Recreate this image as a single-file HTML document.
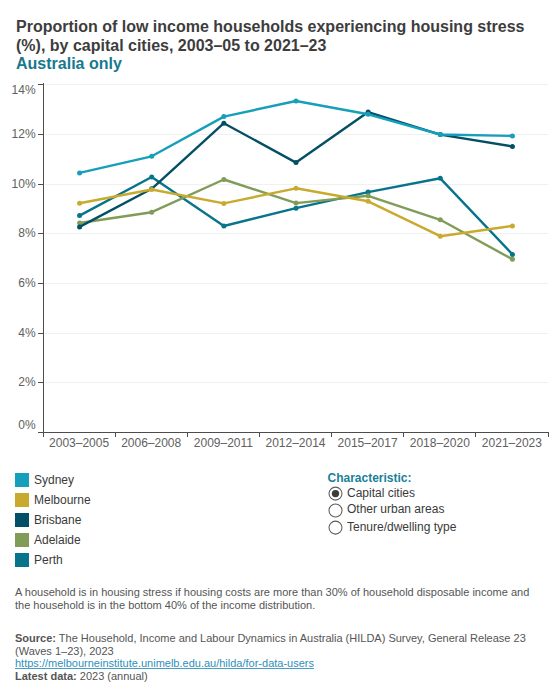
<!DOCTYPE html>
<html><head><meta charset="utf-8">
<style>
html,body{margin:0;padding:0;background:#fff;width:560px;height:700px;overflow:hidden;}
svg{display:block;font-family:"Liberation Sans",sans-serif;}
.t{font-size:16px;font-weight:bold;fill:#3d3d3d;}
.st{font-size:16px;font-weight:bold;fill:#17798f;}
.ax{font-size:12px;fill:#606060;}
.lg{font-size:12px;fill:#3a3a3a;}
.nt{font-size:11px;fill:#555;}
.ln{fill:none;stroke-width:2.4;stroke-linejoin:round;stroke-linecap:round;}
</style></head>
<body>
<svg width="560" height="700" viewBox="0 0 560 700">
<!-- title -->
<text class="t" x="16" y="31.8">Proportion of low income households experiencing housing stress</text>
<text class="t" x="16" y="51">(%), by capital cities, 2003–05 to 2021–23</text>
<text class="st" x="16" y="68.5">Australia only</text>

<!-- gridlines -->
<g fill="#f0f0f0" shape-rendering="crispEdges">
<rect x="45" y="84" width="503" height="1"/>
<rect x="45" y="134" width="503" height="1"/>
<rect x="45" y="184" width="503" height="1"/>
<rect x="45" y="233" width="503" height="1"/>
<rect x="45" y="283" width="503" height="1"/>
<rect x="45" y="333" width="503" height="1"/>
<rect x="45" y="382" width="503" height="1"/>
</g>
<!-- axes -->
<g fill="#4d4d4d" shape-rendering="crispEdges">
<rect x="43" y="83" width="1" height="354"/>
<rect x="38" y="432" width="511" height="1"/>
<rect x="38" y="84" width="5" height="1"/>
<rect x="38" y="134" width="5" height="1"/>
<rect x="38" y="184" width="5" height="1"/>
<rect x="38" y="233" width="5" height="1"/>
<rect x="38" y="283" width="5" height="1"/>
<rect x="38" y="333" width="5" height="1"/>
<rect x="38" y="382" width="5" height="1"/>
<rect x="115" y="432" width="1" height="5"/>
<rect x="187" y="432" width="1" height="5"/>
<rect x="259" y="432" width="1" height="5"/>
<rect x="331" y="432" width="1" height="5"/>
<rect x="403" y="432" width="1" height="5"/>
<rect x="475" y="432" width="1" height="5"/>
<rect x="548" y="432" width="1" height="5"/>
</g>
<!-- y labels -->
<g class="ax" text-anchor="end">
<text x="35.6" y="93.7">14%</text>
<text x="35.6" y="137.7">12%</text>
<text x="35.6" y="187.7">10%</text>
<text x="35.6" y="236.7">8%</text>
<text x="35.6" y="286.7">6%</text>
<text x="35.6" y="336.7">4%</text>
<text x="35.6" y="385.7">2%</text>
<text x="35.6" y="428.9">0%</text>
</g>
<!-- x labels -->
<g class="ax" text-anchor="middle">
<text x="79.1" y="446.8">2003–2005</text>
<text x="151.2" y="446.8">2006–2008</text>
<text x="223.4" y="446.8">2009–2011</text>
<text x="295.5" y="446.8">2012–2014</text>
<text x="367.6" y="446.8">2015–2017</text>
<text x="439.8" y="446.8">2018–2020</text>
<text x="511.9" y="446.8">2021–2023</text>
</g>

<!-- series (drawn Perth first, Sydney last) -->
<g id="perth" fill="#08748C">
<polyline class="ln" stroke="#08748C" points="79.57,215.6 151.71,177.0 223.86,226.0 296,208.2 368.14,192.1 440.29,178.3 512.43,254.4"/>
<circle cx="79.57" cy="215.6" r="2.5"/><circle cx="151.71" cy="177.0" r="2.5"/><circle cx="223.86" cy="226.0" r="2.5"/><circle cx="296" cy="208.2" r="2.5"/><circle cx="368.14" cy="192.1" r="2.5"/><circle cx="440.29" cy="178.3" r="2.5"/><circle cx="512.43" cy="254.4" r="2.5"/>
</g>
<g id="adelaide" fill="#809C58">
<polyline class="ln" stroke="#809C58" points="79.57,223.0 151.71,212.2 223.86,179.5 296,203.1 368.14,195.8 440.29,219.8 512.43,259.3"/>
<circle cx="79.57" cy="223.0" r="2.5"/><circle cx="151.71" cy="212.2" r="2.5"/><circle cx="223.86" cy="179.5" r="2.5"/><circle cx="296" cy="203.1" r="2.5"/><circle cx="368.14" cy="195.8" r="2.5"/><circle cx="440.29" cy="219.8" r="2.5"/><circle cx="512.43" cy="259.3" r="2.5"/>
</g>
<g id="brisbane" fill="#034F66">
<polyline class="ln" stroke="#034F66" points="79.57,226.9 151.71,188.8 223.86,123.2 296,162.6 368.14,112.1 440.29,134.6 512.43,146.4"/>
<circle cx="79.57" cy="226.9" r="2.5"/><circle cx="151.71" cy="188.8" r="2.5"/><circle cx="223.86" cy="123.2" r="2.5"/><circle cx="296" cy="162.6" r="2.5"/><circle cx="368.14" cy="112.1" r="2.5"/><circle cx="440.29" cy="134.6" r="2.5"/><circle cx="512.43" cy="146.4" r="2.5"/>
</g>
<g id="melbourne" fill="#C8AA2E">
<polyline class="ln" stroke="#C8AA2E" points="79.57,203.3 151.71,189.5 223.86,203.4 296,188.3 368.14,201.3 440.29,236.2 512.43,225.9"/>
<circle cx="79.57" cy="203.3" r="2.5"/><circle cx="151.71" cy="189.5" r="2.5"/><circle cx="223.86" cy="203.4" r="2.5"/><circle cx="296" cy="188.3" r="2.5"/><circle cx="368.14" cy="201.3" r="2.5"/><circle cx="440.29" cy="236.2" r="2.5"/><circle cx="512.43" cy="225.9" r="2.5"/>
</g>
<g id="sydney" fill="#169FBA">
<polyline class="ln" stroke="#169FBA" points="79.57,172.9 151.71,156.3 223.86,116.6 296,101.0 368.14,114.3 440.29,134.5 512.43,135.9"/>
<circle cx="79.57" cy="172.9" r="2.5"/><circle cx="151.71" cy="156.3" r="2.5"/><circle cx="223.86" cy="116.6" r="2.5"/><circle cx="296" cy="101.0" r="2.5"/><circle cx="368.14" cy="114.3" r="2.5"/><circle cx="440.29" cy="134.5" r="2.5"/><circle cx="512.43" cy="135.9" r="2.5"/>
</g>

<!-- legend -->
<g shape-rendering="crispEdges">
<rect x="15" y="473" width="14" height="14" fill="#169FBA"/>
<rect x="15" y="493" width="14" height="14" fill="#C8AA2E"/>
<rect x="15" y="513" width="14" height="14" fill="#034F66"/>
<rect x="15" y="533" width="14" height="14" fill="#809C58"/>
<rect x="15" y="553" width="14" height="14" fill="#08748C"/>
</g>
<g class="lg">
<text x="34" y="484">Sydney</text>
<text x="34" y="504">Melbourne</text>
<text x="34" y="524">Brisbane</text>
<text x="34" y="544">Adelaide</text>
<text x="34" y="564">Perth</text>
</g>

<!-- characteristic -->
<text x="327.5" y="481.6" style="font-size:12px;font-weight:bold;fill:#1a7f9a">Characteristic:</text>
<g fill="#fff" stroke="#5c5c5c" stroke-width="1.05">
<circle cx="335.5" cy="493.6" r="6.5"/>
<circle cx="335.5" cy="510.5" r="6.5"/>
<circle cx="335.5" cy="527.6" r="6.5"/>
</g>
<circle cx="335.5" cy="493.6" r="3.7" fill="#3c3c3c"/>
<g class="lg">
<text x="347" y="496.6">Capital cities</text>
<text x="347" y="513.4">Other urban areas</text>
<text x="347" y="530.6">Tenure/dwelling type</text>
</g>

<!-- notes -->
<g class="nt">
<text x="15" y="595.8">A household is in housing stress if housing costs are more than 30% of household disposable income and</text>
<text x="15" y="608.6">the household is in the bottom 40% of the income distribution.</text>
<text x="15" y="642.1"><tspan font-weight="bold">Source:</tspan> The Household, Income and Labour Dynamics in Australia (HILDA) Survey, General Release 23</text>
<text x="15" y="654.8">(Waves 1–23), 2023</text>
<text x="15" y="667.1" fill="#2f90ba">https://melbourneinstitute.unimelb.edu.au/hilda/for-data-users</text>
<rect x="15" y="668" width="299" height="1" fill="#4a9cc4" shape-rendering="crispEdges"/>
<text x="15" y="679.6"><tspan font-weight="bold">Latest data:</tspan> 2023 (annual)</text>
</g>
</svg>
</body></html>
